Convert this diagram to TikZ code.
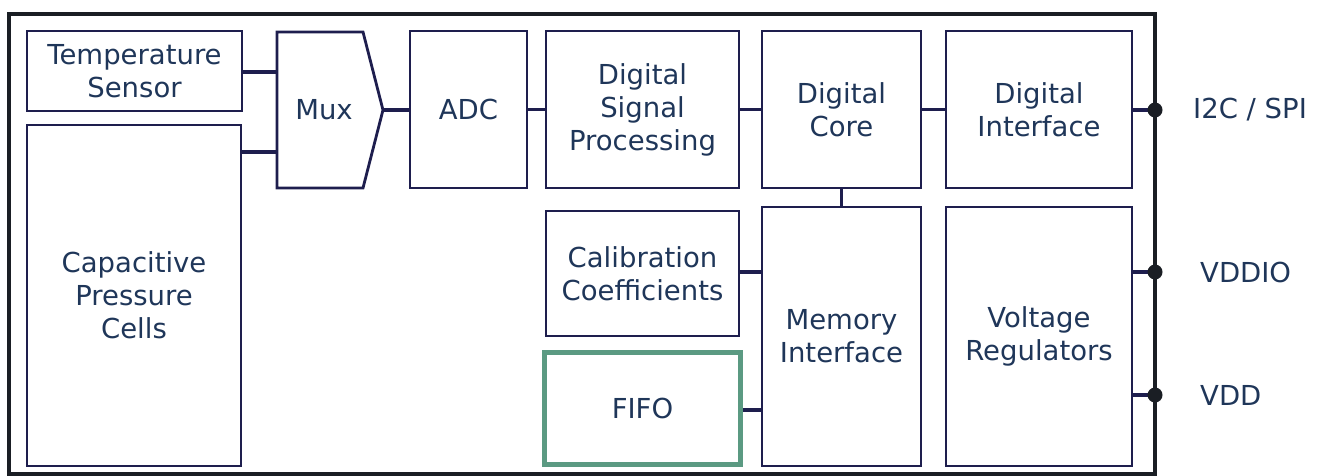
\documentclass[tikz,border=0pt]{standalone}
\usepackage{fontspec}
\setmainfont{DejaVu Sans}
\usepackage{tikz}
\usetikzlibrary{positioning, calc}

\definecolor{boxline}{HTML}{1E1E4E}
\definecolor{labeltext}{HTML}{1F3659}
\definecolor{frameline}{HTML}{1A1E24}
\definecolor{fifogreen}{HTML}{5B9A82}

\tikzset{
    block/.style={draw=boxline, line width=2.8pt, align=center, text=labeltext,
        inner sep=0pt, font=\fontsize{27.5}{33}\selectfont},
    wire/.style={draw=boxline, line width=3.5pt},
    pindot/.style={circle, fill=frameline, inner sep=0pt, minimum size=15pt},
    pinlabel/.style={anchor=west, text=labeltext, inner sep=0pt,
        font=\fontsize{27.5}{33}\selectfont}
}

\begin{document}
\begin{tikzpicture}[x=1pt, y=-1pt]
    \useasboundingbox (0,0) rectangle (1343,476);

    % outer frame of the chip
    \draw[frameline, line width=3.8pt] (9,14) rectangle (1155,474);

    % draw blocks
    \foreach \name/\cx/\cy/\w/\h/\txt in {
        temp/134.5/71/215/80/{Temperature\\Sensor},
        caps/134/295.5/214/341/{Capacitive\\Pressure\\Cells},
        adc/468.5/109.5/117/157/{ADC},
        dsp/642.5/109.5/193/157/{Digital\\Signal\\Processing},
        core/841.5/109.5/159/157/{Digital\\Core},
        dif/1039/109.5/186/157/{Digital\\Interface},
        cal/642.5/273.5/193/125/{Calibration\\Coefficients},
        mem/841.5/336.5/159/259/{Memory\\Interface},
        vreg/1039/336.5/186/259/{Voltage\\Regulators}}{

        \node[block, minimum width=\w, minimum height=\h] (\name) at (\cx,\cy) {\txt};
    }
    \node[block, draw=fifogreen, line width=5pt, minimum width=196, minimum height=112]
        (fifo) at (642.5,408) {FIFO};

    % multiplexer
    \draw[boxline, line width=2.8pt]
        (277,32) -- (363,32) -- (383,110) -- (363,188) -- (277,188) -- cycle;
    \node[text=labeltext, font=\fontsize{27.5}{33}\selectfont] (mux) at (324,110) {Mux};
    \coordinate (muxina) at (277,72);
    \coordinate (muxinb) at (277,152);
    \coordinate (muxout) at (383,110);

    % pins on the right side
    \coordinate (pini2c) at (1155,110);
    \coordinate (pinvddio) at (1155,272);
    \coordinate (pinvdd) at (1155,395);

    % connections
    \draw[wire] (temp.east |- muxina) -- (muxina);
    \draw[wire] (caps.east |- muxinb) -- (muxinb);
    \draw[wire] (muxout) -- (adc.west |- muxout);
    \draw[wire] (adc.east) -- (dsp.west);
    \draw[wire] (dsp.east) -- (core.west);
    \draw[wire] (core.east) -- (dif.west);
    \draw[wire] (core.south) -- (mem.north);
    \draw[wire] (cal.east |- 0,272) -- (mem.west |- 0,272);
    \draw[wire] (fifo.east |- 0,410) -- (mem.west |- 0,410);
    \draw[wire] (dif.east |- pini2c) -- (pini2c);
    \draw[wire] (vreg.east |- pinvddio) -- (pinvddio);
    \draw[wire] (vreg.east |- pinvdd) -- (pinvdd);

    % pin dots and labels
    \foreach \pin/\xoff/\txt in {
        pini2c/38/{I2C / SPI},
        pinvddio/45/{VDDIO},
        pinvdd/45/{VDD}}{

        \node[pindot] at (\pin) {};
        \node[pinlabel] (\pin label) at ($(\pin)+(\xoff,0)$) {\txt};
    }
\end{tikzpicture}
\end{document}
